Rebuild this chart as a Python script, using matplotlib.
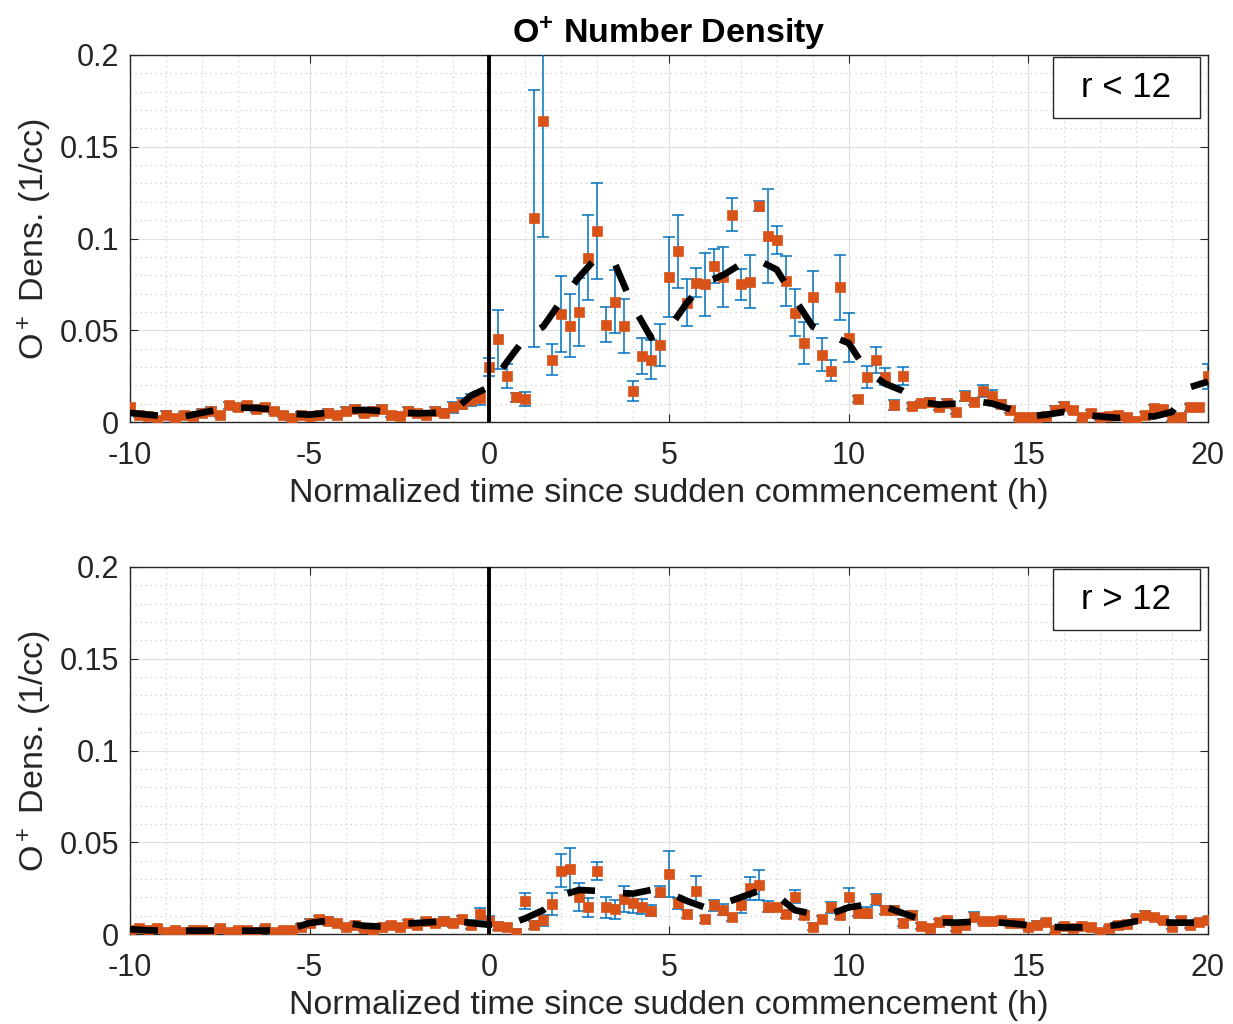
import numpy as np
import matplotlib
matplotlib.use("Agg")
import matplotlib.pyplot as plt
from matplotlib.patches import Rectangle
from matplotlib.ticker import MultipleLocator

plt.rcParams['font.family'] = ['Liberation Sans', 'DejaVu Sans']
plt.rcParams['mathtext.fontset'] = 'custom'
plt.rcParams['mathtext.rm'] = 'Liberation Sans'
plt.rcParams['mathtext.it'] = 'Liberation Sans:italic'
plt.rcParams['mathtext.bf'] = 'Liberation Sans:bold'

# time axis (hours since sudden commencement), 15 min bins
hours = np.arange(-10, 20.01, 0.25)
hours_smooth = np.arange(-10, 20.01, 0.5)

# --- panel 1: r < 12 ---
dens_inner = [
    0.008, 0.004, 0.003, 0.001, 0.004, 0.002, 0.004, 0.003,      # -10 .. -8.25
    0.005, 0.006, 0.004, 0.009, 0.008, 0.009, 0.007, 0.008,      # -8 .. -6.25
    0.006, 0.004, 0.002, 0.004, 0.003, 0.004, 0.005, 0.004,      # -6 .. -4.25
    0.006, 0.007, 0.005, 0.006, 0.007, 0.004, 0.003, 0.006,      # -4 .. -2.25
    0.005, 0.004, 0.006, 0.005, 0.008, 0.010, 0.012, 0.013,      # -2 .. -0.25
    0.030, 0.045, 0.025, 0.0134, 0.0124, 0.111, 0.164, 0.034,    # 0 .. 1.75
    0.059, 0.0525, 0.060, 0.0896, 0.104, 0.053, 0.0656, 0.0523,  # 2 .. 3.75
    0.017, 0.036, 0.034, 0.042, 0.079, 0.093, 0.065, 0.076,      # 4 .. 5.75
    0.075, 0.085, 0.079, 0.113, 0.075, 0.0765, 0.1177, 0.1014,   # 6 .. 7.75
    0.0992, 0.0768, 0.0596, 0.0432, 0.068, 0.0367, 0.028, 0.0734,  # 8 .. 9.75
    0.046, 0.0124, 0.0247, 0.0338, 0.0247, 0.0093, 0.025, 0.0087,  # 10 .. 11.75
    0.0102, 0.011, 0.008, 0.0105, 0.0056, 0.0142, 0.011, 0.017,    # 12 .. 13.75
    0.0142, 0.0098, 0.0065, 0.0026, 0.0026, 0.0026, 0.0033, 0.0065,  # 14 .. 15.75
    0.0087, 0.0065, 0.0026, 0.005, 0.0026, 0.0033, 0.0038, 0.0026,  # 16 .. 17.75
    0.0007, 0.0038, 0.0075, 0.0069, 0.002, 0.0026, 0.008, 0.008,    # 18 .. 19.75
    0.025,                                                          # 20
]
err_inner = [
    0.002, 0.0015, 0.0015, 0.0015, 0.002, 0.0015, 0.0015, 0.0015,
    0.002, 0.002, 0.0015, 0.002, 0.002, 0.002, 0.0015, 0.002,
    0.0015, 0.0015, 0.0015, 0.0015, 0.0015, 0.0015, 0.002, 0.0015,
    0.002, 0.002, 0.0015, 0.002, 0.002, 0.0015, 0.0015, 0.002,
    0.0015, 0.002, 0.002, 0.002, 0.003, 0.003, 0.0035, 0.004,
    0.005, 0.016, 0.0065, 0.0025, 0.0038, 0.070, 0.063, 0.0086,
    0.0206, 0.017, 0.0184, 0.023, 0.026, 0.0095, 0.0173, 0.0145,
    0.0056, 0.010, 0.0107, 0.0115, 0.0218, 0.020, 0.0129, 0.0081,
    0.017, 0.0093, 0.0166, 0.0091, 0.0084, 0.0145, 0.0025, 0.0256,
    0.0075, 0.0136, 0.0129, 0.0115, 0.0145, 0.0091, 0.0059, 0.0177,
    0.0135, 0.0016, 0.006, 0.0071, 0.0047, 0.0027, 0.005, 0.0015,
    0.0015, 0.002, 0.0015, 0.002, 0.0015, 0.0025, 0.002, 0.0034,
    0.003, 0.002, 0.0015, 0.0015, 0.0015, 0.0015, 0.0015, 0.002,
    0.002, 0.0015, 0.0015, 0.0015, 0.0015, 0.0015, 0.0015, 0.0015,
    0.0015, 0.0015, 0.002, 0.002, 0.0015, 0.0015, 0.002, 0.002,
    0.0068,
]
smooth_inner = [
    0.005, 0.004, 0.003, 0.003, 0.005, 0.007, 0.0078, 0.0077, 0.0068, 0.0045,   # -10 .. -5.5
    0.004, 0.005, 0.0062, 0.0066, 0.006, 0.0052, 0.0047, 0.005, 0.006, 0.0145,  # -5 .. -0.5
    0.019, 0.033, 0.046, 0.052, 0.066, 0.079, 0.090, 0.086, 0.063, 0.046,      # 0 .. 4.5
    0.051, 0.065, 0.076, 0.080, 0.086, 0.088, 0.083, 0.067, 0.052, 0.047,      # 5 .. 9.5
    0.043, 0.028, 0.021, 0.017, 0.011, 0.0095, 0.010, 0.0115, 0.010, 0.007,    # 10 .. 14.5
    0.003, 0.004, 0.0055, 0.004, 0.003, 0.0022, 0.0033, 0.003, 0.0055, 0.019,  # 15 .. 19.5
    0.022,                                                                      # 20
]

# --- panel 2: r > 12 ---
dens_outer = [
    0.002, 0.003, 0.002, 0.003, 0.001, 0.002, 0.001, 0.002,
    0.002, 0.001, 0.003, 0.001, 0.002, 0.002, 0.001, 0.003,
    0.001, 0.002, 0.002, 0.004, 0.006, 0.008, 0.007, 0.006,
    0.004, 0.005, 0.003, 0.002, 0.004, 0.005, 0.004, 0.006,
    0.005, 0.007, 0.006, 0.007, 0.006, 0.008, 0.005, 0.0109,
    0.0071, 0.0044, 0.0036, 0.0008, 0.0181, 0.0049, 0.0076, 0.0162,
    0.0345, 0.0352, 0.0203, 0.0145, 0.0345, 0.0145, 0.0134, 0.0189,
    0.0167, 0.0149, 0.0127, 0.023, 0.0327, 0.0167, 0.0109, 0.0236,
    0.008, 0.0158, 0.0131, 0.0091, 0.0158, 0.0249, 0.0267, 0.0149,
    0.0145, 0.0109, 0.0203, 0.0104, 0.004, 0.008, 0.0145, 0.0104,
    0.0203, 0.0116, 0.0116, 0.0189, 0.0131, 0.0131, 0.0062, 0.0104,
    0.0044, 0.0031, 0.0067, 0.0076, 0.0031, 0.005, 0.0094, 0.0071,
    0.0071, 0.0076, 0.0058, 0.0058, 0.004, 0.005, 0.0067, 0.0022,
    0.0044, 0.0031, 0.0044, 0.004, 0.0013, 0.0031, 0.005, 0.0054,
    0.0085, 0.0104, 0.009, 0.0076, 0.004, 0.0076, 0.005, 0.0067,
    0.0076,
]
err_outer = [
    0.0015, 0.0015, 0.0015, 0.0015, 0.0015, 0.0015, 0.0015, 0.0015,
    0.0015, 0.0015, 0.0015, 0.0015, 0.0015, 0.0015, 0.0015, 0.0015,
    0.0015, 0.0015, 0.0015, 0.0015, 0.002, 0.002, 0.002, 0.0015,
    0.0015, 0.0015, 0.0015, 0.0015, 0.0015, 0.0015, 0.0015, 0.0015,
    0.0015, 0.0015, 0.0015, 0.002, 0.002, 0.002, 0.0025, 0.003,
    0.0025, 0.002, 0.002, 0.002, 0.0045, 0.002, 0.003, 0.006,
    0.009, 0.0114, 0.0076, 0.005, 0.005, 0.0056, 0.0053, 0.007,
    0.005, 0.004, 0.003, 0.003, 0.0127, 0.003, 0.002, 0.0079,
    0.002, 0.003, 0.003, 0.002, 0.0044, 0.0062, 0.008, 0.003,
    0.002, 0.002, 0.0035, 0.002, 0.002, 0.002, 0.003, 0.002,
    0.0048, 0.002, 0.003, 0.003, 0.002, 0.002, 0.002, 0.002,
    0.0015, 0.0015, 0.0015, 0.0015, 0.0015, 0.0015, 0.0025, 0.0015,
    0.0015, 0.0015, 0.0015, 0.0015, 0.0015, 0.002, 0.0015, 0.0015,
    0.0015, 0.0015, 0.0015, 0.0015, 0.0015, 0.0015, 0.0015, 0.0015,
    0.0015, 0.002, 0.0015, 0.0015, 0.0015, 0.0015, 0.0015, 0.0015,
    0.0015,
]
smooth_outer = [
    0.0026, 0.002, 0.0018, 0.0018, 0.0018, 0.0018, 0.0018, 0.0018, 0.002, 0.003,
    0.006, 0.0072, 0.0062, 0.0045, 0.004, 0.0054, 0.006, 0.0066, 0.0072, 0.006,
    0.005, 0.005, 0.0085, 0.013, 0.021, 0.024, 0.0235, 0.0225, 0.022, 0.024,
    0.0225, 0.018, 0.0145, 0.0165, 0.020, 0.0235, 0.021, 0.013, 0.011, 0.011,
    0.0145, 0.016, 0.015, 0.0114, 0.008, 0.0065, 0.0062, 0.0067, 0.0065, 0.0058,
    0.0048, 0.004, 0.0036, 0.0036, 0.004, 0.005, 0.007, 0.0068, 0.0062, 0.0062,
    0.0065,
]

x_ticks = [-10, -5, 0, 5, 10, 15, 20]
x_tick_labels = ['-10', '-5', '0', '5', '10', '15', '20']
y_ticks = [0, 0.05, 0.1, 0.15, 0.2]
y_tick_labels = ['0', '0.05', '0.1', '0.15', '0.2']

AXIS_COLOR = '#262626'


def draw_panel(ax, dens, err, smooth, label):
    # error bars first, then the square markers on top
    ax.errorbar(hours, dens, yerr=err, fmt='none', ecolor='#0072BD',
                elinewidth=1.1, capsize=4.3, capthick=1.1, zorder=3)
    ax.plot(hours, dens, 's', ms=6.8, mfc='#D95319', mec='#D95319', mew=0.5, zorder=3.5)
    ax.plot(hours_smooth, smooth, color='k', lw=4.8, dashes=(4.2, 4.2), zorder=4)
    ax.axvline(0, color='k', lw=2.8, zorder=5)

    ax.set_xlim(-10, 20)
    ax.set_ylim(0, 0.2)
    ax.set_xticks(x_ticks)
    ax.set_xticklabels(x_tick_labels)
    ax.set_yticks(y_ticks)
    ax.set_yticklabels(y_tick_labels)
    ax.xaxis.set_minor_locator(MultipleLocator(1))
    ax.yaxis.set_minor_locator(MultipleLocator(0.01))
    ax.grid(which='major', color='#dedede', lw=0.8)
    ax.grid(which='minor', color='#c4c4c4', lw=0.8, linestyle=(0, (1, 3.5)))
    ax.set_axisbelow(True)
    ax.tick_params(which='major', direction='in', length=6, width=0.8, colors=AXIS_COLOR,
                   labelsize=22, top=True, right=True)
    ax.tick_params(axis='x', which='major', pad=14)
    ax.tick_params(axis='y', which='major', pad=8)
    ax.tick_params(which='minor', length=0)
    for sp in ax.spines.values():
        sp.set_color(AXIS_COLOR)
        sp.set_linewidth(1.0)

    ax.set_xlabel('Normalized time since sudden commencement (h)', fontsize=24.5,
                  color=AXIS_COLOR, labelpad=5)
    ax.set_ylabel(r'O$^+$ Dens. (1/cc)', fontsize=24.5, color=AXIS_COLOR, labelpad=4)

    # legend-style box with the region label
    ax.add_patch(Rectangle((0.856, 0.828), 0.1366, 0.1666, transform=ax.transAxes,
                           facecolor='white', edgecolor=AXIS_COLOR, lw=1.0, zorder=6))
    ax.text(0.924, 0.911, label, transform=ax.transAxes, ha='center', va='center',
            fontsize=25, color='k', zorder=7)


fig = plt.figure(figsize=(12.33, 10.24), dpi=100)
ax1 = fig.add_axes([130 / 1233, 1 - 422 / 1024, 1078 / 1233, 367 / 1024])
ax2 = fig.add_axes([130 / 1233, 1 - 934 / 1024, 1078 / 1233, 367 / 1024])

draw_panel(ax1, dens_inner, err_inner, smooth_inner, 'r < 12')
draw_panel(ax2, dens_outer, err_outer, smooth_outer, 'r > 12')

ax1.set_title(r'O$^{\mathbf{+}}$ Number Density', fontsize=24.5, fontweight='bold', pad=9)

fig.savefig('out.png', dpi=100)
